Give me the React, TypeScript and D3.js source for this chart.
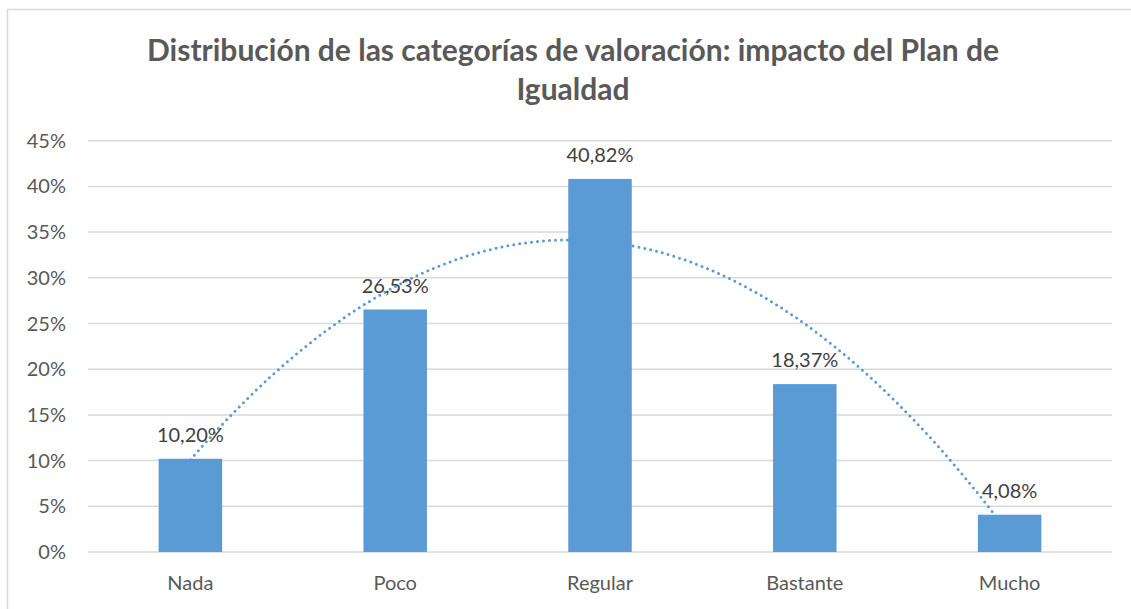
import React, { useEffect, useRef } from 'react';
import * as d3 from 'd3';

const categories = ['Nada', 'Poco', 'Regular', 'Bastante', 'Mucho'];
const values = [10.2, 26.53, 40.82, 18.37, 4.08];
const yTicks = [0, 5, 10, 15, 20, 25, 30, 35, 40, 45];
const titleLines = ['Distribución de las categorías de valoración: impacto del Plan de', 'Igualdad'];

// least squares fit of order 2 (excel "polinómica" trendline)
function quadFit(ys: number[]) {
  const xs = ys.map((_, i) => i + 1);
  const n = ys.length;
  const s = (f: (x: number, y: number) => number) => d3.sum(xs, (x, i) => f(x, ys[i]));
  const S1 = s((x) => x), S2 = s((x) => x * x), S3 = s((x) => x ** 3), S4 = s((x) => x ** 4);
  const Y = s((x, y) => y), XY = s((x, y) => x * y), X2Y = s((x, y) => x * x * y);
  // solve 3x3 by cramer
  const det = (m: number[][]) =>
    m[0][0] * (m[1][1] * m[2][2] - m[1][2] * m[2][1]) -
    m[0][1] * (m[1][0] * m[2][2] - m[1][2] * m[2][0]) +
    m[0][2] * (m[1][0] * m[2][1] - m[1][1] * m[2][0]);
  const A = [[n, S1, S2], [S1, S2, S3], [S2, S3, S4]];
  const B = [Y, XY, X2Y];
  const D = det(A);
  const col = (k: number) => A.map((row, i) => row.map((v, j) => (j === k ? B[i] : v)));
  const a = det(col(0)) / D, b = det(col(1)) / D, c = det(col(2)) / D;
  return (x: number) => a + b * x + c * x * x;
}

export default function App() {
  const svgRef = useRef<SVGSVGElement>(null);

  useEffect(() => {
    document.body.style.margin = '0';
    const width = 1131;
    const height = 609;
    const font = 'Lato, "Open Sans", sans-serif';

    const svg = d3.select(svgRef.current).attr('width', width).attr('height', height);
    svg.selectAll('*').remove();

    const x = d3.scaleBand().domain(categories).range([88, 1112]).paddingInner(0.69).paddingOuter(0.345);
    const y = d3.scaleLinear().domain([0, 45]).range([552, 140.7]);

    // chart border
    svg.append('path')
      .attr('d', `M7.5,${height} V9.5 H${width}`)
      .attr('fill', 'none')
      .attr('stroke', '#d9d9d9')
      .attr('stroke-width', 1.5);

    // title
    svg.append('g')
      .attr('font-family', font)
      .attr('font-weight', 'bold')
      .attr('font-size', 30)
      .attr('fill', '#595959')
      .attr('text-anchor', 'middle')
      .selectAll('text')
      .data(titleLines)
      .join('text')
      .attr('x', 573)
      .attr('y', (d, i) => 61 + i * 39)
      .text((d) => d);

    // gridlines
    svg.append('g')
      .selectAll('line')
      .data(yTicks)
      .join('line')
      .attr('x1', 88)
      .attr('x2', 1112)
      .attr('y1', (d) => y(d))
      .attr('y2', (d) => y(d))
      .attr('stroke', '#d9d9d9')
      .attr('stroke-width', 1.5);

    // y tick labels
    svg.append('g')
      .attr('font-family', font)
      .attr('font-size', 20)
      .attr('fill', '#595959')
      .attr('text-anchor', 'end')
      .selectAll('text')
      .data(yTicks)
      .join('text')
      .attr('x', 66)
      .attr('y', (d) => y(d) + 7)
      .text((d) => `${d}%`);

    // bars
    svg.append('g')
      .selectAll('rect')
      .data(values)
      .join('rect')
      .attr('x', (d, i) => x(categories[i])!)
      .attr('y', (d) => y(d))
      .attr('width', x.bandwidth())
      .attr('height', (d) => y(0) - y(d))
      .attr('fill', '#5b9bd5');

    // x labels
    svg.append('g')
      .attr('font-family', font)
      .attr('font-size', 20)
      .attr('fill', '#595959')
      .attr('text-anchor', 'middle')
      .selectAll('text')
      .data(categories)
      .join('text')
      .attr('x', (d) => x(d)! + x.bandwidth() / 2)
      .attr('y', 590)
      .text((d) => d);

    // trendline
    const f = quadFit(values);
    const step = x.step();
    const cx = (t: number) => x(categories[0])! + x.bandwidth() / 2 + (t - 1) * step;
    const pts = d3.range(1, 5.001, 0.02).map((t) => [cx(t), y(f(t))] as [number, number]);
    svg.append('path')
      .attr('d', d3.line()(pts))
      .attr('fill', 'none')
      .attr('stroke', '#5b9bd5')
      .attr('stroke-width', 3)
      .attr('stroke-linecap', 'round')
      .attr('stroke-dasharray', '0 6');

    // data labels
    svg.append('g')
      .attr('font-family', font)
      .attr('font-size', 20)
      .attr('fill', '#404040')
      .attr('text-anchor', 'middle')
      .selectAll('text')
      .data(values)
      .join('text')
      .attr('x', (d, i) => x(categories[i])! + x.bandwidth() / 2)
      .attr('y', (d) => y(d) - 17)
      .text((d) => `${d.toFixed(2).replace('.', ',')}%`);
  }, []);

  return (
    <div>
      <svg ref={svgRef}></svg>
    </div>
  );
}
